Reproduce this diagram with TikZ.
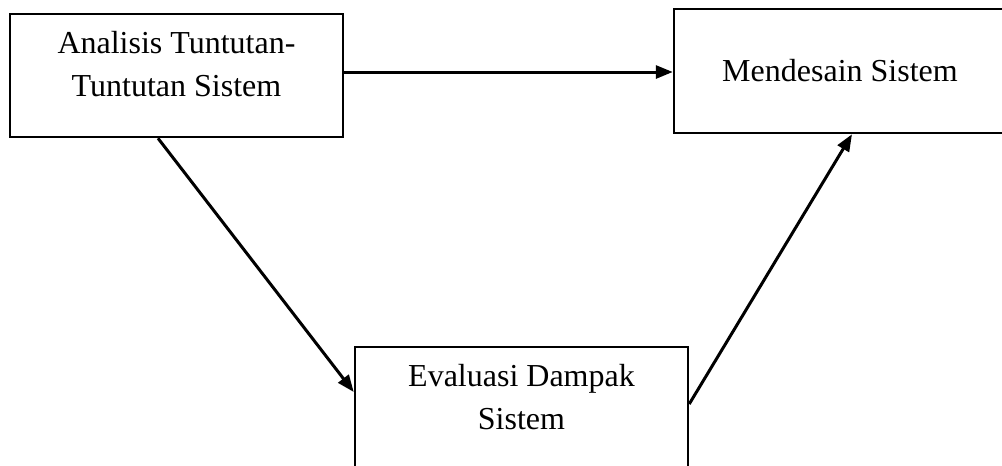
\documentclass[tikz,border=0pt]{standalone}
\usepackage{fontspec}
\setmainfont{Liberation Serif}
\usetikzlibrary{arrows.meta,positioning}
\tikzset{
  >={Triangle[length=17pt,width=13pt]},
  x=1pt, y=-1pt,
}
\tikzstyle{box}=[draw,line width=2.5pt,minimum width=333pt,inner sep=0pt]
\tikzstyle{caption}=[font=\fontsize{32}{43}\selectfont,align=center,inner sep=0pt]
\tikzstyle{link}=[line width=3pt,->]

\begin{document}
\begin{tikzpicture}
    \clip (0,0) rectangle (1002,466);
    \node[box,minimum height=123pt] (ana) at (176.5,75.5) {};
    \node[caption,below=18pt of ana.north] (anatext) {Analisis Tuntutan-\\Tuntutan Sistem};
    \node[box,minimum width=332pt,minimum height=124pt] (mend) at (840,71) {};
    \node[caption,below=51pt of mend.north] (mendtext) {Mendesain Sistem};
    \node[box,minimum height=124pt] (eval) at (521.5,409) {};
    \node[caption,below=18pt of eval.north] (evaltext) {Evaluasi Dampak\\Sistem};
    \draw[link] ([yshift=3.5pt]ana.east) -- ([yshift=3.5pt]ana.east -| mend.west);
    \draw[link] ([xshift=-18.5pt]ana.south) -- ([yshift=17pt]eval.west);
    \draw[link] ([yshift=5pt]eval.east) -- ([xshift=12pt]mend.south);
\end{tikzpicture}
\end{document}
